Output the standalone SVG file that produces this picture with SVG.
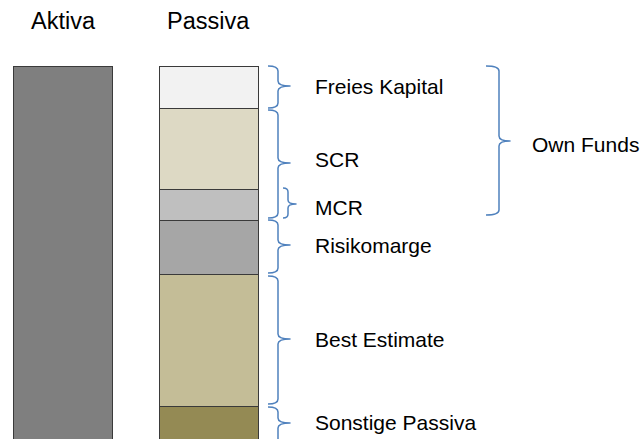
<svg xmlns="http://www.w3.org/2000/svg" width="644" height="439" viewBox="0 0 644 439">
  <style>
    .lbl { font-family: "Liberation Sans", Arial, sans-serif; font-size: 21px; fill: #000; }
    .head { font-family: "Liberation Sans", Arial, sans-serif; font-size: 23.5px; fill: #000; }
    .seg { stroke: #3a3a3a; stroke-width: 1; }
    .brace { fill: none; stroke: #4f81bd; stroke-width: 1.5; stroke-linejoin: round; }
  </style>
  <rect width="644" height="439" fill="#ffffff"/>

  <!-- column headings -->
  <text class="head" x="31" y="29">Aktiva</text>
  <text class="head" x="167" y="29">Passiva</text>

  <!-- assets column -->
  <g id="aktiva">
    <rect class="seg" x="13.5" y="66.5" width="99" height="380" fill="#7f7f7f"/>
  </g>

  <!-- liabilities column, stacked from top to bottom -->
  <g id="freies-kapital">
    <rect class="seg" x="159.5" y="66.5" width="99" height="42" fill="#f2f2f2"/>
    <text class="lbl" x="315" y="94">Freies Kapital</text>
  </g>
  <g id="scr">
    <rect class="seg" x="159.5" y="108.5" width="99" height="81" fill="#ddd9c4"/>
    <text class="lbl" x="315" y="167">SCR</text>
  </g>
  <g id="mcr">
    <rect class="seg" x="159.5" y="189.5" width="99" height="31" fill="#bfbfbf"/>
    <text class="lbl" x="315" y="215">MCR</text>
  </g>
  <g id="risikomarge">
    <rect class="seg" x="159.5" y="220.5" width="99" height="54" fill="#a6a6a6"/>
    <text class="lbl" x="315" y="253">Risikomarge</text>
  </g>
  <g id="best-estimate">
    <rect class="seg" x="159.5" y="274.5" width="99" height="132" fill="#c4bd97"/>
    <text class="lbl" x="315" y="347">Best Estimate</text>
  </g>
  <g id="sonstige-passiva">
    <rect class="seg" x="159.5" y="406.5" width="99" height="40" fill="#948a54"/>
    <text class="lbl" x="315" y="430">Sonstige Passiva</text>
  </g>
  <g id="own-funds">
    <text class="lbl" x="532" y="152">Own Funds</text>
  </g>

  <!-- curly braces linking segments to their labels -->
  <g id="connectors">
    <path class="brace" d="M268 66 Q278 66 278 71 L278 81 Q278 86 290 86 Q278 86 278 91 L278 103 Q278 108 268 108"/>
    <path class="brace" d="M268 110 Q278 110 278 115 L278 158 Q278 163 290 163 Q278 163 278 168 L278 213 Q278 218 268 218"/>
    <path class="brace" d="M283 188 Q288 188 288 192 L288 200 Q288 204 296 204 Q288 204 288 208 L288 214 Q288 218 283 218"/>
    <path class="brace" d="M268 220 Q278 220 278 225 L278 240 Q278 245 290 245 Q278 245 278 250 L278 268 Q278 273 268 273"/>
    <path class="brace" d="M268 276 Q278 276 278 281 L278 334 Q278 339 290 339 Q278 339 278 344 L278 399 Q278 404 268 404"/>
    <path class="brace" d="M268 407 Q278 407 278 412 L278 418 Q278 423 290 423 Q278 423 278 428 L278 445"/>
    <path class="brace" d="M486 66 Q499 66 499 71 L499 136 Q499 141 510 141 Q499 141 499 146 L499 210 Q499 215 486 215"/>
  </g>
</svg>
